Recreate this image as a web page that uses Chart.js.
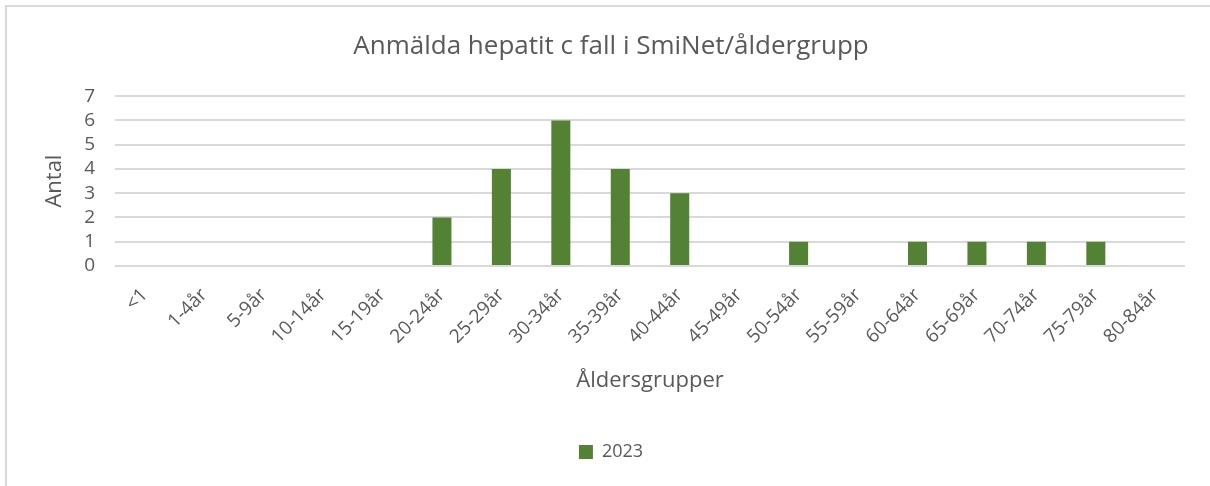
<!DOCTYPE html>
<html>
<head>
<meta charset="utf-8">
<script src="https://cdn.jsdelivr.net/npm/chart.js@4"></script>
<style>
    html, body { margin: 0; padding: 0; background: #fff; }
    #frame { position: absolute; left: 5px; top: 5px; width: 1300px; height: 600px;
             border-left: 2px solid #d9d9d9; border-top: 2px solid #d9d9d9; }
    #chart { position: absolute; left: 0; top: 0; }
</style>
</head>
<body>
<div id="frame"></div>
<canvas id="chart" width="1210" height="486"></canvas>
<script>
// Age groups on the x axis
var ageGroups = ['<1', '1-4år', '5-9år', '10-14år', '15-19år', '20-24år', '25-29år', '30-34år',
    '35-39år', '40-44år', '45-49år', '50-54år', '55-59år', '60-64år', '65-69år', '70-74år',
    '75-79år', '80-84år'];

// Reported cases per age group
var cases2023 = [0, 0, 0, 0, 0, 2, 4, 6, 4, 3, 0, 1, 0, 1, 1, 1, 1, 0];

var seriesLabel = '2023';
var yTicks = [0, 1, 2, 3, 4, 5, 6, 7];

var textColor = '#595959';
var fontFamily = "'Open Sans', sans-serif";

// Setup the config for the chart
var config = {
    type: 'bar',
    data: {
        labels: ageGroups,
        datasets: [{
            label: seriesLabel,
            data: cases2023,
            backgroundColor: '#548235',
            barPercentage: 0.32,
            categoryPercentage: 1
        }]
    },
    options: {
        responsive: false,
        animation: false,
        layout: { padding: { left: 37, right: 25, top: 0, bottom: 15 } },
        plugins: {
            title: {
                display: true,
                text: 'Anmälda hepatit c fall i SmiNet/åldergrupp',
                color: textColor,
                font: { family: fontFamily, size: 26, weight: 'normal' },
                padding: { top: 31, bottom: 34 }
            },
            legend: {
                display: true,
                position: 'bottom',
                labels: {
                    color: textColor,
                    font: { family: fontFamily, size: 18 },
                    boxWidth: 14,
                    boxHeight: 14,
                    padding: 10
                }
            },
            tooltip: { enabled: false }
        },
        scales: {
            x: {
                grid: { display: false },
                border: { display: false },
                ticks: {
                    color: textColor,
                    font: { family: fontFamily, size: 19 },
                    minRotation: 45,
                    maxRotation: 45,
                    autoSkip: false,
                    padding: 10
                },
                title: {
                    display: true,
                    text: 'Åldersgrupper',
                    color: textColor,
                    font: { family: fontFamily, size: 22 },
                    padding: { top: 0, bottom: 39 }
                },
                afterFit: function (scale) { scale.height = 167; }
            },
            y: {
                min: 0,
                max: 7,
                grid: { color: '#d9d9d9', lineWidth: 2, drawTicks: false },
                border: { display: false },
                ticks: {
                    stepSize: 1,
                    autoSkip: false,
                    color: textColor,
                    font: { family: fontFamily, size: 19 },
                    padding: 20,
                    callback: function (value) { return yTicks.indexOf(value) >= 0 ? value : ''; }
                },
                title: {
                    display: true,
                    text: 'Antal',
                    color: textColor,
                    font: { family: fontFamily, size: 22 },
                    padding: { top: 5, bottom: 0 }
                },
                afterFit: function (scale) { scale.width = 78; }
            }
        }
    }
};

// Create the chart
var ctx = document.getElementById('chart').getContext('2d');
new Chart(ctx, config);
</script>
</body>
</html>
